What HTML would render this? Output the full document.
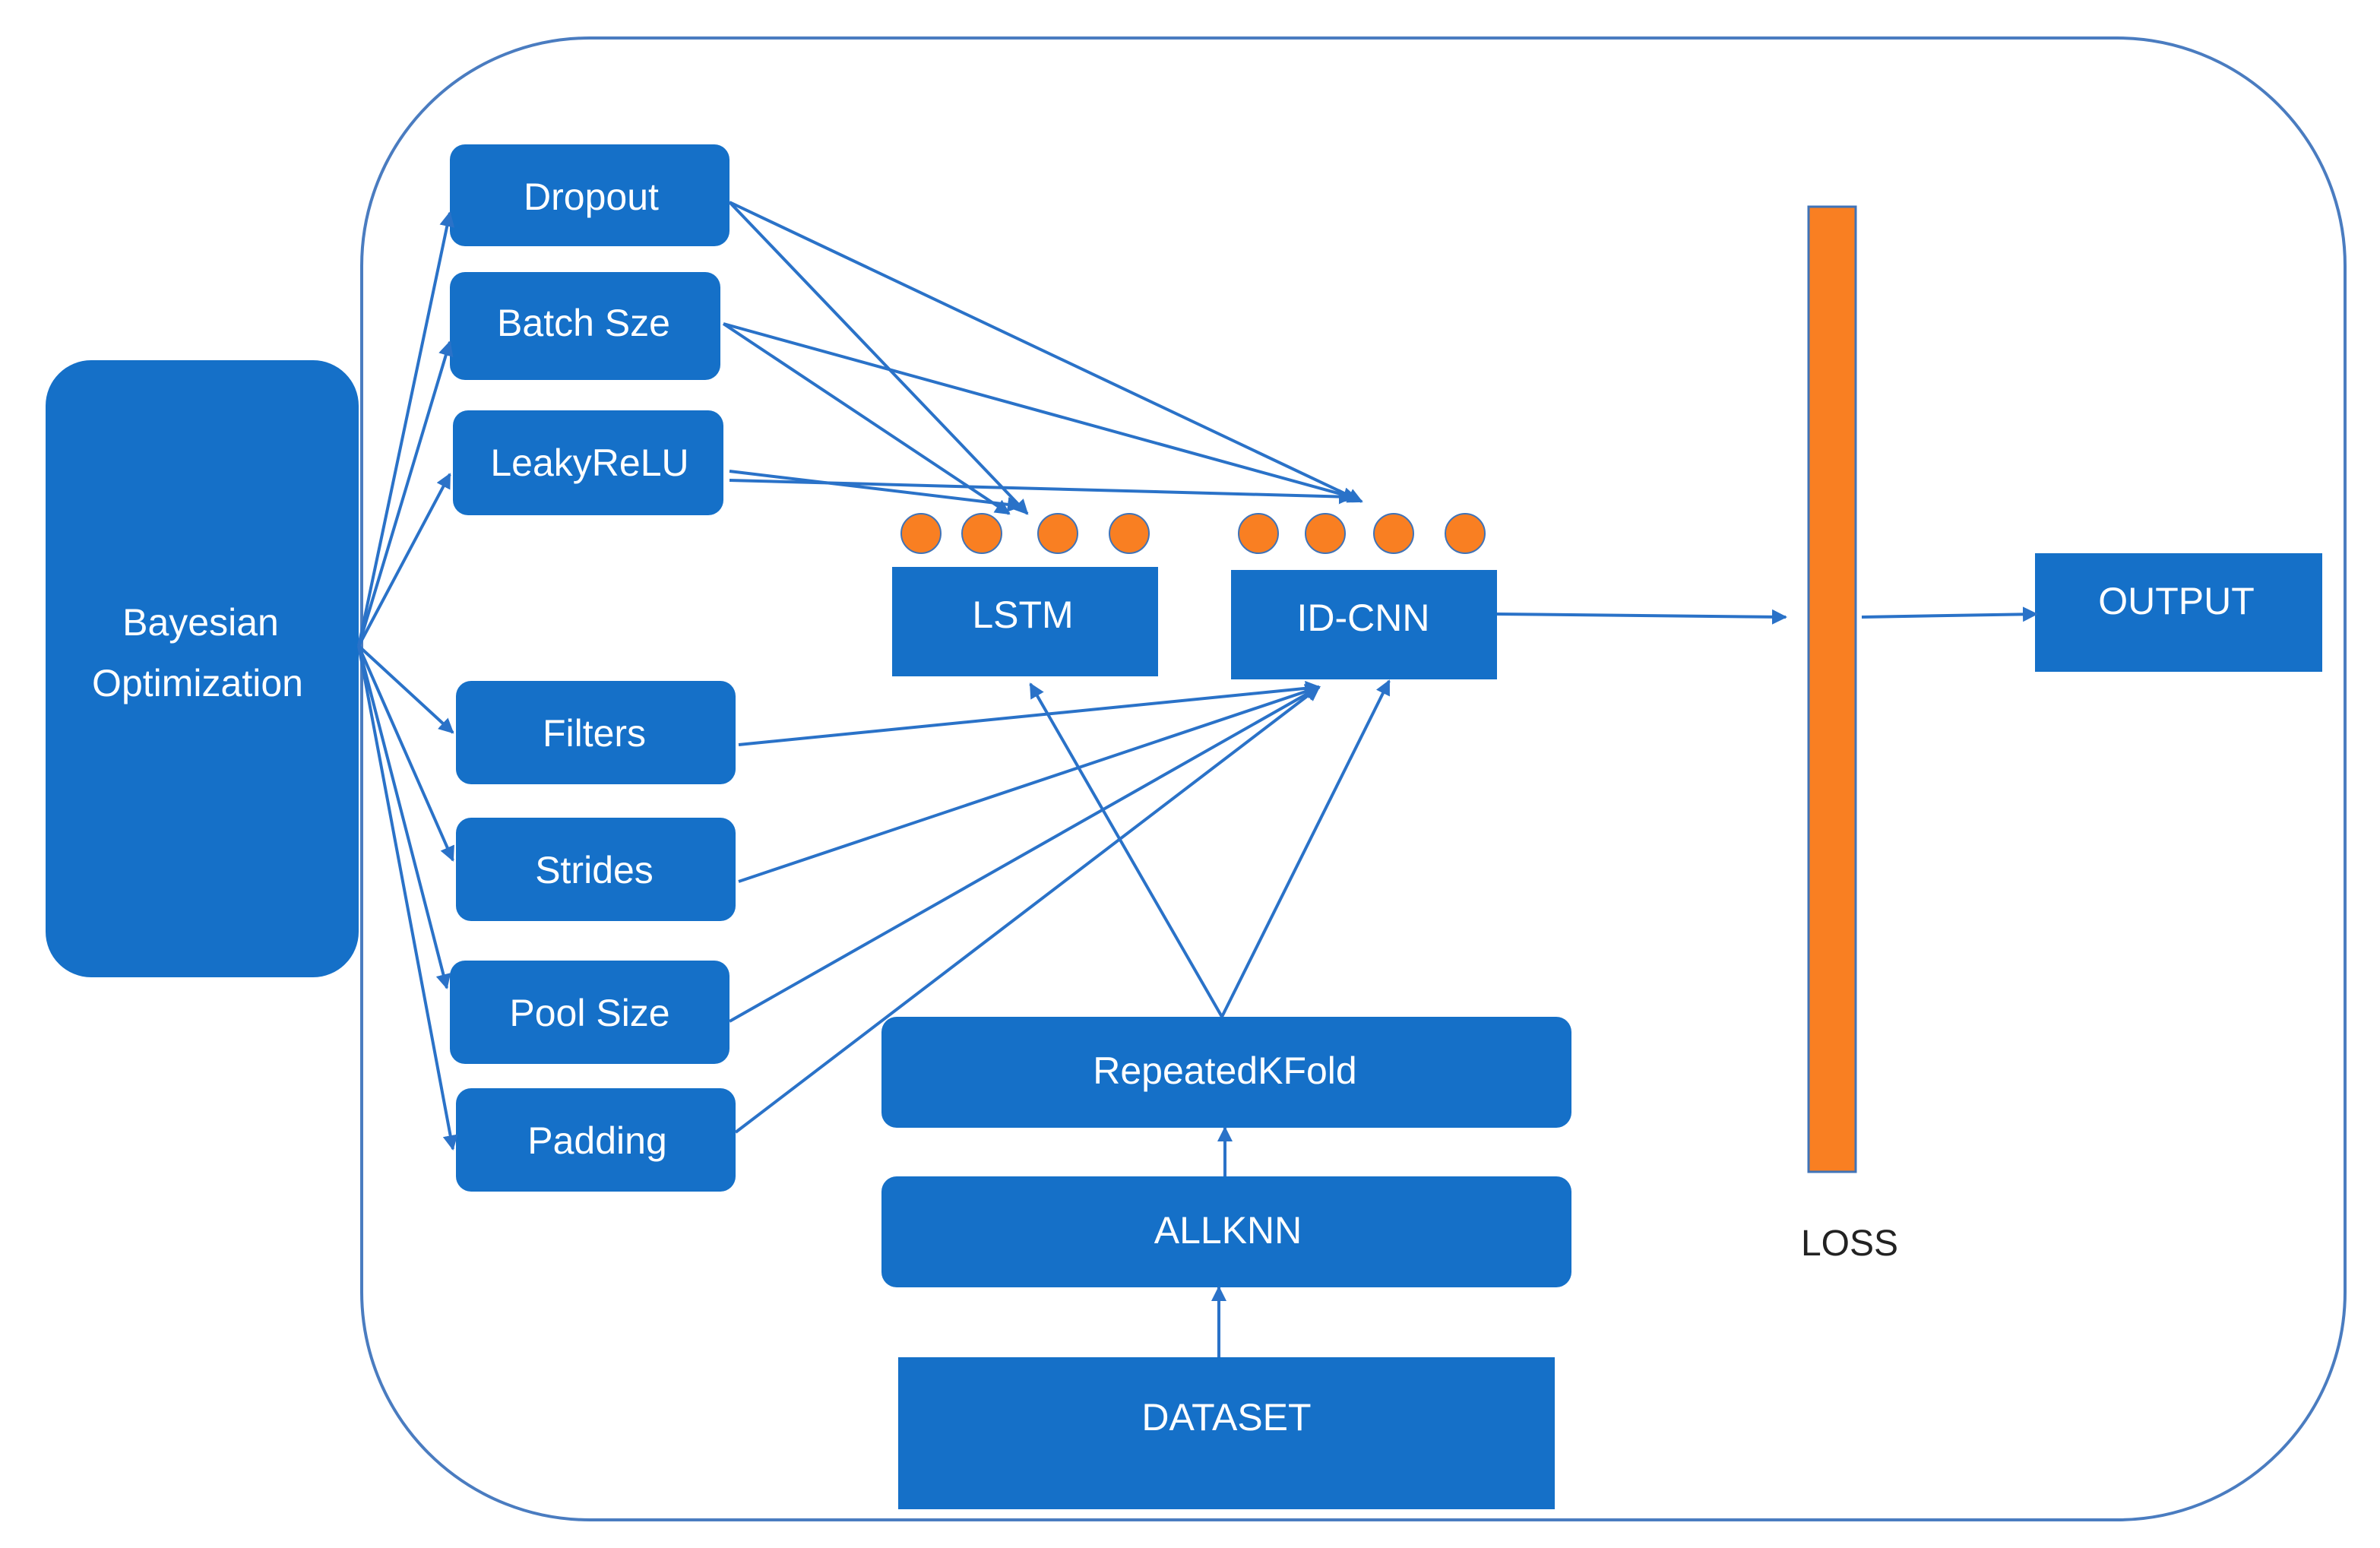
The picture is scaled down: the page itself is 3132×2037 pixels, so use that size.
<!DOCTYPE html>
<html><head><meta charset="utf-8"><style>html,body{margin:0;padding:0;background:#fff}svg{display:block}</style></head>
<body>
<svg width="3132" height="2037" viewBox="0 0 1566 1018.5" preserveAspectRatio="none" xmlns="http://www.w3.org/2000/svg" font-family="Liberation Sans, sans-serif">
<defs><marker id="a" markerWidth="10" markerHeight="10" refX="9" refY="5" orient="auto" markerUnits="userSpaceOnUse"><path d="M0,0 L10,5 L0,10 z" fill="#2a72c8"/></marker></defs>
<rect x="238" y="25" width="1305" height="975" rx="150" fill="none" stroke="#4a7cc0" stroke-width="2"/>
<g fill="#1570c8">
<rect x="30" y="237" width="206" height="406" rx="30"/>
<rect x="296" y="95" width="184" height="67" rx="10"/>
<rect x="296" y="179" width="178" height="71" rx="10"/>
<rect x="298" y="270" width="178" height="69" rx="10"/>
<rect x="300" y="448" width="184" height="68" rx="10"/>
<rect x="300" y="538" width="184" height="68" rx="10"/>
<rect x="296" y="632" width="184" height="68" rx="10"/>
<rect x="300" y="716" width="184" height="68" rx="10"/>
<rect x="587" y="373" width="175" height="72"/>
<rect x="810" y="375" width="175" height="72"/>
<rect x="1339" y="364" width="189" height="78"/>
<rect x="580" y="669" width="454" height="73" rx="10"/>
<rect x="580" y="774" width="454" height="73" rx="10"/>
<rect x="591" y="893" width="432" height="100"/>
</g>
<rect x="1190" y="136" width="31" height="635" fill="#f97f22" stroke="#3f73b8" stroke-width="1.5"/>
<g fill="#f97f22" stroke="#3f73b8" stroke-width="1">
<circle cx="606" cy="351" r="13"/><circle cx="646" cy="351" r="13"/><circle cx="696" cy="351" r="13"/><circle cx="743" cy="351" r="13"/>
<circle cx="828" cy="351" r="13"/><circle cx="872" cy="351" r="13"/><circle cx="917" cy="351" r="13"/><circle cx="964" cy="351" r="13"/>
</g>
<g stroke="#2a72c8" stroke-width="2" fill="none" marker-end="url(#a)">
<line x1="236" y1="425" x2="296" y2="140"/>
<line x1="236" y1="425" x2="296" y2="225"/>
<line x1="236" y1="425" x2="296" y2="312"/>
<line x1="236" y1="425" x2="298" y2="482"/>
<line x1="236" y1="425" x2="298" y2="566"/>
<line x1="236" y1="425" x2="294" y2="650"/>
<line x1="236" y1="425" x2="298" y2="756"/>
<line x1="480" y1="133" x2="676" y2="338"/>
<line x1="480" y1="133" x2="896" y2="330"/>
<line x1="476" y1="213" x2="664" y2="338"/>
<line x1="476" y1="213" x2="893" y2="328"/>
<line x1="480" y1="310" x2="672" y2="333"/>
<line x1="480" y1="316" x2="890" y2="327"/>
<line x1="486" y1="490" x2="868" y2="452"/>
<line x1="486" y1="580" x2="868" y2="452"/>
<line x1="480" y1="672" x2="868" y2="452"/>
<line x1="484" y1="745" x2="868" y2="452"/>
<line x1="804" y1="669" x2="678" y2="450"/>
<line x1="804" y1="669" x2="914" y2="448"/>
<line x1="806" y1="774" x2="806" y2="742"/>
<line x1="802" y1="893" x2="802" y2="847"/>
<line x1="985" y1="404" x2="1175" y2="406"/>
<line x1="1225" y1="406" x2="1340" y2="404"/>
</g>
<g fill="#fff" font-size="25" text-anchor="middle">
<text x="132" y="418">Bayesian</text>
<text x="130" y="458">Optimization</text>
<text x="389" y="138">Dropout</text>
<text x="384" y="221">Batch Sze</text>
<text x="388" y="313">LeakyReLU</text>
<text x="391" y="491">Filters</text>
<text x="391" y="581">Strides</text>
<text x="388" y="675">Pool Size</text>
<text x="393" y="759">Padding</text>
<text x="673" y="413">LSTM</text>
<text x="897" y="415">ID-CNN</text>
<text x="1432" y="404">OUTPUT</text>
<text x="806" y="713">RepeatedKFold</text>
<text x="808" y="818">ALLKNN</text>
<text x="807" y="941">DATASET</text>
</g>
<text x="1217" y="826" font-size="24" text-anchor="middle" fill="#222">LOSS</text>
</svg>
</body></html>
